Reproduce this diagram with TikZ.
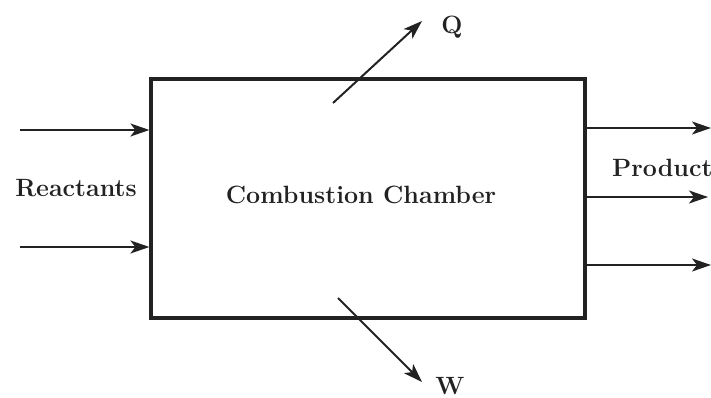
\documentclass[tikz,border=0pt]{standalone}
\usetikzlibrary{arrows.meta}
\definecolor{ink}{HTML}{222222}
\begin{document}
\begin{tikzpicture}[x=1pt,y=-1pt,
  every node/.style={text=ink,font=\fontsize{25}{28}\selectfont\bfseries},
  chamberbox/.style={draw=ink,line width=3.2pt,minimum width=434pt,minimum height=239pt,inner sep=0pt},
  flow/.style={draw=ink,line width=2pt,-{Stealth[length=19pt,width=13pt,inset=5pt]}}]
\useasboundingbox (0,0) rectangle (711,398);
\node[chamberbox] (chamber) at (368,198.5) {};
\node (ctext) at (361,195) {Combustion Chamber};
\node (react) at (76,188) {Reactants};
\node[anchor=west,inner sep=0pt] (prod) at (612,168) {Product};
\node (qlab) at (452,27) {Q};
\node (wlab) at (450,386) {W};
\coordinate (r1) at (20,130);
\coordinate (r2) at (20,247);
\coordinate (p1) at (711,128);
\coordinate (p2) at (708,197);
\coordinate (p3) at (711,265);
\coordinate (q0) at (333,103);
\coordinate (q1) at (422,21);
\coordinate (w0) at (338,298);
\coordinate (w1) at (422,382);
\draw[flow] (r1) -- (r1 -| chamber.west);
\draw[flow] (r2) -- (r2 -| chamber.west);
\draw[flow] (p1 -| chamber.east) -- (p1);
\draw[flow] (p2 -| chamber.east) -- (p2);
\draw[flow] (p3 -| chamber.east) -- (p3);
\draw[flow] (q0) -- (q1);
\draw[flow] (w0) -- (w1);
\end{tikzpicture}
\end{document}
